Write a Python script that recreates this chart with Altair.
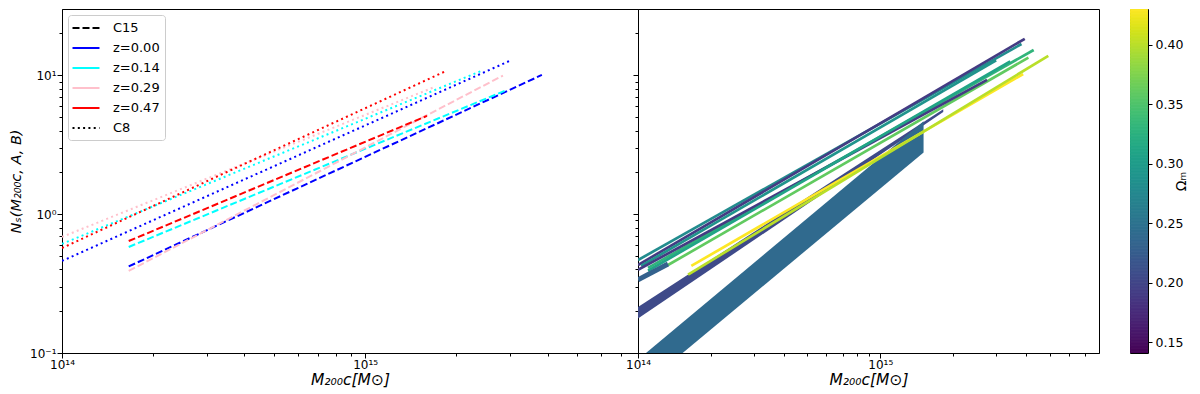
import altair as alt
import pandas as pd

FONT = "DejaVu Sans"

# ---------------- Left panel data ----------------
left_keys = ["C15", "z=0.00", "z=0.14", "z=0.29", "z=0.47", "C8"]
left_colors = ["#000000", "#0000ff", "#00ffff", "#ffc0cb", "#ff0000", "#000000"]
left_dashes = [[7, 3], [1, 0], [1, 0], [1, 0], [1, 0], [2, 3.3]]

c15_z = ["z=0.00", "z=0.14", "z=0.29", "z=0.47"]
c15_m_start = [1.66e14, 1.66e14, 1.66e14, 1.66e14]
c15_m_end = [3.83e15, 2.92e15, 2.85e15, 1.60e15]
c15_n_start = [0.42, 0.58, 0.39, 0.64]
c15_n_end = [10.05, 7.8, 9.95, 5.1]

c8_z = ["z=0.00", "z=0.14", "z=0.29", "z=0.47"]
c8_m_start = [1.0e14, 1.0e14, 1.0e14, 1.0e14]
c8_m_end = [3.0e15, 2.43e15, 1.71e15, 1.86e15]
c8_n_start = [0.46, 0.61, 0.685, 0.57]
c8_n_end = [12.7, 10.8, 8.3, 10.8]

# ---------------- Right panel data ----------------
line_omega = [0.28, 0.19, 0.29, 0.33, 0.36, 0.19, 0.31, 0.23, 0.43, 0.40]
line_width = [2.7, 2.7, 2.7, 2.7, 2.7, 2.7, 2.7, 5.0, 2.7, 2.7]
line_m_start = [1.0e14, 1.0e14, 1.03e14, 1.10e14, 1.33e14, 1.0e14, 1.10e14, 1.0e14, 1.66e14, 1.61e14]
line_m_end = [3.83e15, 3.95e15, 3.01e15, 4.30e15, 4.09e15, 2.76e15, 3.44e15, 1.33e14, 3.89e15, 4.94e15]
line_n_start = [0.467, 0.430, 0.424, 0.410, 0.430, 0.397, 0.391, 0.337, 0.424, 0.367]
line_n_end = [16.8, 18.3, 12.8, 15.2, 13.4, 9.27, 12.6, 0.437, 10.2, 13.8]

band_omega = [0.205, 0.240]
band_m_start = [1.0e14, 1.0e14]
band_m_end = [1.82e15, 1.51e15]
band_lo_start = [0.177, 0.054]
band_hi_start = [0.214, 0.0895]
band_lo_end = [5.44, 2.78]
band_hi_end = [5.70, 4.67]

omega_ticks = [0.15, 0.20, 0.25, 0.30, 0.35, 0.40]
omega_range = [0.141, 0.430]

x_ticks = [1e14, 2e14, 3e14, 4e14, 5e14, 6e14, 7e14, 8e14, 9e14,
           1e15, 2e15, 3e15, 4e15, 5e15, 6e15, 7e15]
y_ticks = [0.1, 0.2, 0.3, 0.4, 0.5, 0.6, 0.7, 0.8, 0.9,
           1, 2, 3, 4, 5, 6, 7, 8, 9, 10, 20]

# ---------------- tables ----------------
rows = []
for i, z in enumerate(c15_z):
    rows.append(dict(line="C15 " + z, key=z, kind="C15", M=c15_m_start[i], N=c15_n_start[i]))
    rows.append(dict(line="C15 " + z, key=z, kind="C15", M=c15_m_end[i], N=c15_n_end[i]))
for i, z in enumerate(c8_z):
    rows.append(dict(line="C8 " + z, key=z, kind="C8", M=c8_m_start[i], N=c8_n_start[i]))
    rows.append(dict(line="C8 " + z, key=z, kind="C8", M=c8_m_end[i], N=c8_n_end[i]))
left_df = pd.DataFrame(rows)

rrows = []
for i, om in enumerate(line_omega):
    rrows.append(dict(line=i, omega=om, w=line_width[i], M=line_m_start[i], N=line_n_start[i]))
    rrows.append(dict(line=i, omega=om, w=line_width[i], M=line_m_end[i], N=line_n_end[i]))
right_df = pd.DataFrame(rrows)

brows = []
for i, om in enumerate(band_omega):
    brows.append(dict(band=i, omega=om, M=band_m_start[i], lo=band_lo_start[i], hi=band_hi_start[i]))
    brows.append(dict(band=i, omega=om, M=band_m_end[i], lo=band_lo_end[i], hi=band_hi_end[i]))
band_df = pd.DataFrame(brows)

# ---------------- axes ----------------
x_label_expr = "datum.value == 1e14 ? '10\u00b9\u2074' : datum.value == 1e15 ? '10\u00b9\u2075' : ''"
y_label_expr = ("datum.value == 0.1 ? '10\u207b\u00b9' : datum.value == 1 ? '10\u2070' : "
                "datum.value == 10 ? '10\u00b9' : ''")
x_major = "datum.value == 1e14 || datum.value == 1e15"
y_major = "datum.value == 0.1 || datum.value == 1 || datum.value == 10"

x_title = "M\u2082\u2080\u2080c[M\u2299]"
y_title = "N\u209b(M\u2082\u2080\u2080c, A, B)"


def x_axis():
    return alt.Axis(values=x_ticks, labelExpr=x_label_expr, title=x_title,
                    tickSize={"condition": {"test": x_major, "value": 5}, "value": 3},
                    labelFlush=False, labelOverlap=False, grid=False,
                    labelFontSize=12, titleFontSize=15.5, titleFontStyle="italic",
                    labelPadding=1, titlePadding=2)


W_L, W_R, H = 576, 461, 344

y_scale = alt.Scale(type="log", domain=[0.1, 30], nice=False)

legend_common = dict(
    title=None, orient="top-left", offset=6,
    symbolType="M-2,0H2", symbolSize=182, symbolStrokeWidth=2, symbolOffset=5,
    labelFontSize=13, labelFont=FONT, labelColor="black",
    labelOffset=19, rowPadding=5, padding=5,
    fillColor="white", strokeColor="#cccccc", cornerRadius=3,
)

left_lines = alt.Chart(left_df).mark_line(strokeWidth=2, clip=True).encode(
    x=alt.X("M:Q", scale=alt.Scale(type="log", domain=[1e14, 7.95e15], nice=False), axis=x_axis()),
    y=alt.Y("N:Q", scale=y_scale,
            axis=alt.Axis(values=y_ticks, labelExpr=y_label_expr, title=y_title,
                          tickSize={"condition": {"test": y_major, "value": 5}, "value": 3},
                          labelFlush=False, labelOverlap=False, grid=False,
                          labelFontSize=12, titleFontSize=14.5, titleFontStyle="italic",
                          labelPadding=1, titlePadding=6)),
    color=alt.Color("key:N", scale=alt.Scale(domain=left_keys, range=left_colors),
                    legend=alt.Legend(**legend_common)),
    strokeDash=alt.StrokeDash("kind:N", scale=alt.Scale(domain=left_keys, range=left_dashes),
                              legend=alt.Legend(**legend_common)),
    detail="line:N",
).properties(width=W_L, height=H)

omega_scale = alt.Scale(scheme="viridis", domain=omega_range)

bands = alt.Chart(band_df).mark_area(clip=True, opacity=1).encode(
    x=alt.X("M:Q", scale=alt.Scale(type="log", domain=[1e14, 8.0e15], nice=False), axis=x_axis()),
    y=alt.Y("hi:Q", scale=y_scale,
            axis=alt.Axis(values=y_ticks, labels=False, title=None, grid=False,
                          tickSize={"condition": {"test": y_major, "value": 5}, "value": 3})),
    y2="lo:Q",
    color=alt.Color("omega:Q", scale=omega_scale, legend=None),
    detail="band:N",
)

right_lines = alt.Chart(right_df).mark_line(clip=True).encode(
    x=alt.X("M:Q"),
    y=alt.Y("N:Q"),
    color=alt.Color("omega:Q", scale=omega_scale, legend=None),
    strokeWidth=alt.StrokeWidth("w:Q", scale=None),
    detail="line:N",
)

right = alt.layer(bands, right_lines).properties(width=W_R, height=H)

# colour bar: a dense Vega-generated sequence over the Ω_m range (overlapping cells, no seams)
colorbar = alt.Chart(
    alt.sequence(start=omega_range[0], stop=omega_range[1] - 0.0009, step=0.0005, as_="v")
).transform_calculate(
    v2="datum.v + 0.001"
).mark_rect(strokeWidth=0).encode(
    y=alt.Y("v:Q", scale=alt.Scale(domain=omega_range, nice=False, zero=False),
            axis=alt.Axis(orient="right", values=omega_ticks, format=".2f", title="\u03a9\u2098",
                          titleAngle=270, titleFontSize=14, titlePadding=6,
                          labelFontSize=12.5, tickSize=4, labelPadding=3, grid=False,
                          labelFlush=False, domain=False)),
    y2="v2:Q",
    color=alt.Color("v:Q", scale=omega_scale, legend=None),
).properties(width=18, height=H)

panels = alt.hconcat(left_lines, right, spacing=0, bounds="flush").resolve_scale(
    color="independent", strokeDash="independent"
)

chart = alt.hconcat(panels, colorbar, spacing=29).resolve_scale(
    color="independent"
).configure(
    font=FONT, padding=0,
).configure_view(
    stroke="black", strokeWidth=1,
).configure_axis(
    domainColor="black", tickColor="black", labelColor="black", titleColor="black",
    labelFont=FONT, titleFont=FONT, titleFontWeight="normal", domainWidth=1, tickWidth=1,
)

chart.save("out.html", embed_options={"renderer": "svg", "actions": False})
